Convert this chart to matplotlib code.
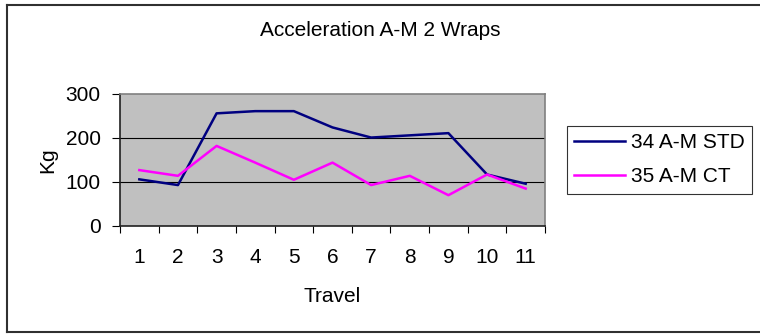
import matplotlib
matplotlib.use("Agg")
from matplotlib import pyplot as plt
from matplotlib.lines import Line2D

travel = [1, 2, 3, 4, 5, 6, 7, 8, 9, 10, 11]
std_34 = [106, 93, 256, 261, 261, 224, 201, 206, 211, 117, 96]
ct_35 = [127, 114, 182, 144, 105, 144, 93, 114, 70, 117, 85]
y_ticks = [0, 100, 200, 300]

plt.rcParams["font.family"] = ["Liberation Sans", "DejaVu Sans"]
FS = 15

fig = plt.figure(figsize=(7.6, 3.34), dpi=100)
ax = fig.add_axes([0.1579, 0.3234, 0.5592, 0.3952])

# outer chart border (right side runs off the picture)
px = 1.0 / 760
py = 1.0 / 334
for xs, ys in [([7 * px, 1.01], [1 - 5 * py] * 2),
               ([7 * px, 1.01], [2 * py] * 2),
               ([7 * px] * 2, [2 * py, 1 - 5 * py])]:
    fig.add_artist(Line2D(xs, ys, color="#303030", lw=1.5, transform=fig.transFigure))

ax.set_facecolor("#C0C0C0")
for y in y_ticks[1:-1]:
    ax.axhline(y, color="black", lw=0.8, zorder=1)

ax.plot(travel, std_34, color="#000080", lw=1.8, label="34 A-M STD", zorder=3)
ax.plot(travel, ct_35, color="#FF00FF", lw=1.8, label="35 A-M CT", zorder=3)

ax.set_xlim(0.5, 11.5)
ax.set_ylim(0, 300)
ax.set_yticks(y_ticks)
ax.set_xticks(travel)
ax.set_xticks([t - 0.5 for t in travel] + [11.5], minor=True)
ax.tick_params(axis="x", which="major", length=0, pad=16, labelsize=FS)
ax.tick_params(axis="x", which="minor", length=5, width=0.8, direction="out")
ax.tick_params(axis="y", length=6, width=0.8, direction="out", pad=8, labelsize=FS)

ax.spines["left"].set_color("#202020")
ax.spines["bottom"].set_color("#202020")
ax.spines["top"].set_color("#808080")
ax.spines["right"].set_color("#808080")
for s in ax.spines.values():
    s.set_linewidth(1.2)

ax.set_xlabel("Travel", fontsize=FS, labelpad=14)
ax.set_ylabel("Kg", fontsize=FS, labelpad=6)
fig.text(0.5, 1 - 30 * py, "Acceleration A-M 2 Wraps", ha="center", va="center", fontsize=FS)

leg = ax.legend(loc="upper left", bbox_to_anchor=(567 * px, 1 - 126 * py),
                bbox_transform=fig.transFigure, frameon=True, fancybox=False,
                fontsize=FS, handlelength=2.45, borderpad=0.35, labelspacing=0.72,
                handletextpad=0.25, borderaxespad=0)
leg.get_frame().set_edgecolor("black")
leg.get_frame().set_linewidth(0.8)

fig.savefig("out.png", dpi=100)
